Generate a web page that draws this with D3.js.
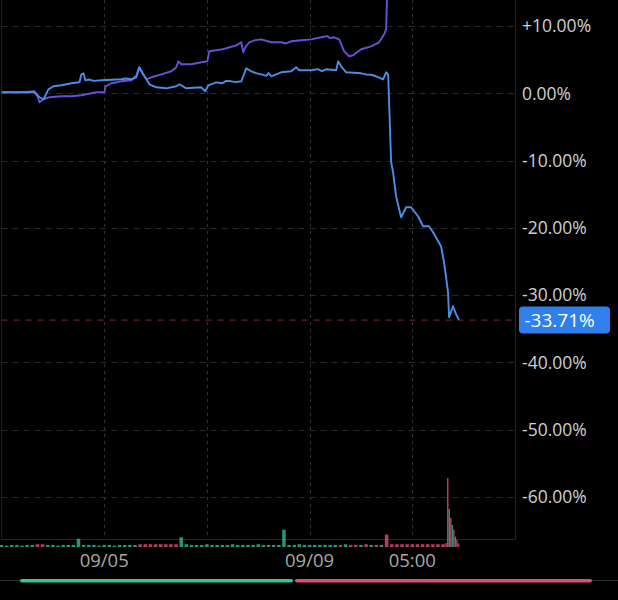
<!DOCTYPE html>
<html><head><meta charset="utf-8">
<script src="https://cdn.jsdelivr.net/npm/d3@7/dist/d3.min.js"></script>
<style>html,body{margin:0;padding:0;background:#000;}svg{display:block;}</style>
</head><body><svg id="c" width="618" height="600"></svg>
<script>
// ---- data ----
const yTickValues = [10, 0, -10, -20, -30, -40, -50, -60];
const yTickLabels = ["+10.00%", "0.00%", "-10.00%", "-20.00%", "-30.00%", "-40.00%", "-50.00%", "-60.00%"];
const xGridValues = [1, 2, 3, 4];
const xTickValues = [1, 3, 4];
const xTickLabels = ["09/05", "09/09", "05:00"];
const lastValue = -33.71;
const lastLabel = "-33.71%";

// [session time, % change]
const blueSeries = [
  [0,0.15],[0.195,0.15],[0.321,0.15],[0.370,-0.59],[0.409,-0.89],[0.457,0.59],[0.506,1.04],[0.584,1.19],
  [0.681,1.49],[0.759,1.63],[0.778,2.82],[0.798,2.97],[0.817,1.93],[0.85,2.05],[0.90,1.85],[0.973,1.93],
  [1.167,2.08],[1.21,2.2],[1.265,2.08],[1.313,2.38],[1.342,3.86],[1.381,2.82],[1.440,1.34],[1.508,0.89],
  [1.605,0.74],[1.702,1.04],[1.732,1.34],[1.800,0.74],[1.946,0.89],[1.984,0.30],[2.014,1.19],[2.091,1.63],
  [2.15,1.5],[2.19,1.85],[2.237,1.78],[2.28,1.65],[2.335,1.78],[2.383,3.71],[2.432,3.27],[2.48,3.0],
  [2.529,2.82],[2.58,2.6],[2.60,3.0],[2.626,2.53],[2.724,3.12],[2.821,3.27],[2.870,3.86],[2.899,3.42],
  [3.016,3.42],[3.08,3.6],[3.12,3.3],[3.161,3.57],[3.259,3.42],[3.278,4.75],[3.307,4.01],[3.356,3.12],
  [3.502,2.97],[3.55,2.8],[3.60,2.75],[3.648,2.53],[3.716,2.08],[3.745,3.12],[3.765,2.82],
  [3.794,-10.25],[3.813,-11.74],[3.842,-15.30],[3.891,-18.42],[3.940,-16.94],[3.988,-16.94],[4.056,-18.28],
  [4.105,-19.76],[4.163,-19.76],[4.202,-20.66],[4.280,-22.73],[4.309,-25.11],[4.348,-29.57],[4.358,-33.28],
  [4.397,-31.65],[4.426,-32.84],[4.455,-33.71]
];
const purpleSeries = [
  [0,0.15],[0.195,0.15],[0.321,0.30],[0.350,-0.45],[0.370,-1.34],[0.409,-0.89],[0.467,-0.59],[0.584,-0.45],
  [0.681,-0.45],[0.778,-0.30],[0.924,0.15],[1.002,0.15],[1.012,1.04],[1.070,1.49],[1.167,1.78],[1.265,1.93],
  [1.313,2.67],[1.342,3.86],[1.372,2.97],[1.411,2.08],[1.459,2.38],[1.556,2.82],[1.654,3.27],[1.702,3.86],
  [1.722,4.75],[1.751,4.31],[1.848,4.31],[1.946,4.61],[2.004,4.75],[2.023,6.24],[2.091,6.39],[2.14,6.5],
  [2.189,6.69],[2.286,7.13],[2.335,7.58],[2.354,6.09],[2.374,6.84],[2.412,7.58],[2.47,7.9],[2.529,8.02],
  [2.626,7.58],[2.724,7.58],[2.77,7.4],[2.821,7.73],[2.918,7.88],[3.016,8.02],[3.113,8.32],[3.17,8.5],
  [3.20,8.2],[3.239,8.32],[3.288,8.02],[3.337,6.24],[3.385,5.50],[3.424,5.65],[3.502,6.54],[3.599,6.98],
  [3.677,7.58],[3.726,8.77],[3.745,9.51],[3.755,14.7]
];

// volume: evenly spaced bars (every 0.05 session) then detailed bars at the end
const volValues = [3,2,3,3,2,3,3, 4,4, 3,3,2,3,3,3,12,3,3,3, 2,3,3,2,3,3,3,3, 4,4,4,4,4,4,4,4, 14, 4,3,3,3,4,3,3,3,3,4,3,3,3,3,4,3,3,3,3, 25, 3,3,4,3,3,3,3,3,3, 3,3,4,3,3,3,4,3,3,3, 18, 4,4,4,4,4,4,4,4,4,4,4];
const volDirs = "ggggggg" + "rr" + "gggggggggg" + "gggggggg" + "rrrrrrrr" + "g" + "ggggggggggggggggggg" + "g" + "ggggggggg" + "grgrrgrgrg" + "r" + "rrrrrrrrrrr";
const volTailT = [4.33, 4.345, 4.36, 4.375, 4.39, 4.405, 4.42, 4.435, 4.45];
const volTailV = [6, 100, 55, 42, 32, 25, 15, 10, 5];
const volTailDirs = "rrgrgrgrr";

const ratioBuy = 47.9, ratioSell = 52.1;

// ---- drawing ----
const svg = d3.select("#c");
const W = 618, H = 600;
const plotL = 1.5, plotR = 515, plotB = 539.5;
const x = d3.scaleLinear().domain([0, 5]).range([plotL, plotR]);
const y = d3.scaleLinear().domain([-60, 10]).range([497, 26]);
const vy = d3.scaleLinear().domain([0, 100]).range([547, 478]);
const FONT = "'Open Sans', 'Noto Sans', sans-serif";

svg.append("rect").attr("width", W).attr("height", H).attr("fill", "#000");

// grid
const grid = svg.append("g");
grid.selectAll("line.h").data(yTickValues).join("line")
  .attr("x1", plotL).attr("x2", plotR)
  .attr("y1", d => Math.round(y(d)) + 0.5).attr("y2", d => Math.round(y(d)) + 0.5)
  .attr("stroke", "#2a2a2a").attr("stroke-width", 1).attr("stroke-dasharray", "6,5");
grid.selectAll("line.v").data(xGridValues).join("line")
  .attr("x1", d => Math.round(x(d)) + 0.5).attr("x2", d => Math.round(x(d)) + 0.5)
  .attr("y1", 0).attr("y2", plotB)
  .attr("stroke", "#333").attr("stroke-width", 1).attr("stroke-dasharray", "3,4");

// frame
svg.append("line").attr("x1", plotR + 0.5).attr("x2", plotR + 0.5).attr("y1", 0).attr("y2", plotB)
  .attr("stroke", "#262626");
svg.append("line").attr("x1", plotL).attr("x2", plotR + 0.5).attr("y1", plotB).attr("y2", plotB)
  .attr("stroke", "#262626");
svg.append("line").attr("x1", plotL).attr("x2", plotL).attr("y1", 0).attr("y2", plotB)
  .attr("stroke", "#1e1e1e");

// volume
const volData = volValues.map((v, i) => ({t: i * 0.05, v, d: volDirs[i]}))
  .concat(volTailT.map((t, i) => ({t, v: volTailV[i], d: volTailDirs[i]})));
const GREEN = "#2fae8e", RED = "#d9466a";
svg.append("g").selectAll("rect").data(volData).join("rect")
  .attr("x", d => x(d.t) - (d.t > 4.32 ? 0.75 : 1.75))
  .attr("width", d => d.t > 4.32 ? 1.5 : 3.5)
  .attr("y", d => vy(d.v))
  .attr("height", d => vy(0) - vy(d.v))
  .attr("fill", d => d.d === "g" ? GREEN : RED)
  .attr("opacity", 0.85);

// clip for lines
svg.append("clipPath").attr("id", "clip").append("rect")
  .attr("x", plotL).attr("y", 0).attr("width", plotR - plotL).attr("height", plotB);

const line = d3.line().x(d => x(d[0])).y(d => y(d[1]));
const lines = svg.append("g").attr("clip-path", "url(#clip)");
lines.append("path").datum(purpleSeries)
  .attr("d", line).attr("fill", "none").attr("stroke", "#6a4fd6").attr("stroke-width", 1.9)
  .attr("stroke-linejoin", "round");
lines.append("path").datum(blueSeries)
  .attr("d", line).attr("fill", "none").attr("stroke", "#4a8ee6").attr("stroke-width", 1.9)
  .attr("stroke-linejoin", "round");

// last value dashed line
svg.append("line").attr("x1", plotL).attr("x2", plotR)
  .attr("y1", y(lastValue)).attr("y2", y(lastValue))
  .attr("stroke", "#7a2b38").attr("stroke-width", 1).attr("stroke-dasharray", "6,6");

// y axis labels
svg.append("g").selectAll("text").data(yTickValues).join("text")
  .attr("x", 522).attr("y", d => y(d))
  .attr("dy", "0.36em")
  .attr("fill", "#cfcfcf").attr("font-family", FONT).attr("font-size", 17.5)
  .text((d, i) => yTickLabels[i]);

// last value box
svg.append("rect").attr("x", 519).attr("y", y(lastValue) - 13.5).attr("width", 91).attr("height", 27)
  .attr("rx", 4).attr("fill", "#2f80ed");
svg.append("text").attr("x", 524.5).attr("y", y(lastValue)).attr("dy", "0.36em")
  .attr("fill", "#ffffff").attr("font-family", FONT).attr("font-size", 19)
  .text(lastLabel);

// x axis labels
svg.append("g").selectAll("text").data(xTickValues).join("text")
  .attr("x", d => x(d)).attr("y", 560).attr("dy", "0.36em")
  .attr("text-anchor", "middle")
  .attr("fill", "#a8a8a8").attr("font-family", FONT).attr("font-size", 18.5)
  .text((d, i) => xTickLabels[i]);

// buy/sell ratio bar
const rx = d3.scaleLinear().domain([0, ratioBuy + ratioSell]).range([20, 592]);
svg.append("line").attr("x1", 0).attr("x2", W).attr("y1", 580.5).attr("y2", 580.5)
  .attr("stroke", "#2e2e2e").attr("stroke-width", 1);
svg.append("rect").attr("x", rx(0)).attr("y", 579).attr("width", rx(ratioBuy) - rx(0) - 1)
  .attr("height", 3.5).attr("rx", 1.75).attr("fill", "#3dbf9c");
svg.append("rect").attr("x", rx(ratioBuy) + 1).attr("y", 579).attr("width", rx(ratioBuy + ratioSell) - rx(ratioBuy) - 1)
  .attr("height", 3.5).attr("rx", 1.75).attr("fill", "#dd4f6e");
</script></body></html>
